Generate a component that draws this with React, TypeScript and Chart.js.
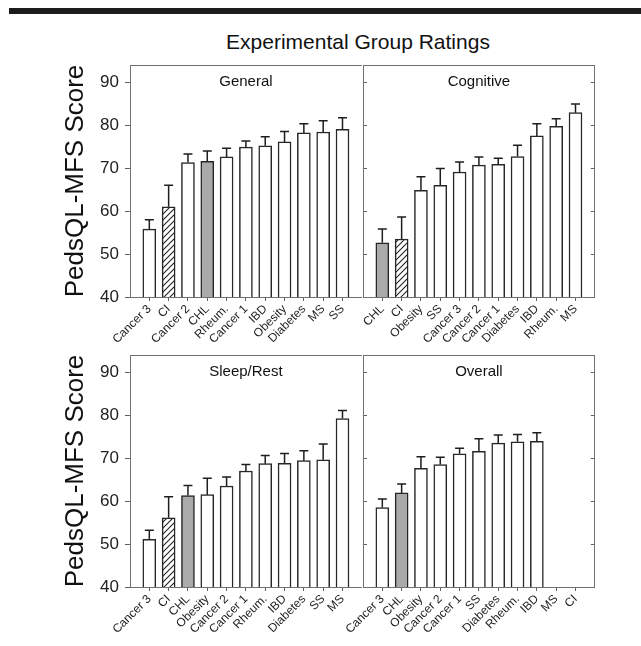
import React, { useEffect, useRef } from 'react';
import { Chart, registerables } from 'chart.js';

Chart.register(...registerables);

// ---------------- data ----------------
const generalCats = ['Cancer 3', 'CI', 'Cancer 2', 'CHL', 'Rheum.', 'Cancer 1', 'IBD', 'Obesity', 'Diabetes', 'MS', 'SS'];
const generalMeans = [55.8, 61.0, 71.3, 71.6, 72.6, 74.9, 75.2, 76.1, 78.2, 78.4, 79.0];
const generalErr = [2.2, 5.0, 2.0, 2.4, 2.0, 1.4, 2.1, 2.4, 2.1, 2.6, 2.7];

const cognitiveCats = ['CHL', 'CI', 'Obesity', 'SS', 'Cancer 3', 'Cancer 2', 'Cancer 1', 'Diabetes', 'IBD', 'Rheum.', 'MS'];
const cognitiveMeans = [52.6, 53.5, 64.8, 66.0, 69.1, 70.7, 70.9, 72.7, 77.5, 79.7, 82.9];
const cognitiveErr = [3.2, 5.1, 3.2, 3.9, 2.3, 1.9, 1.4, 2.6, 2.8, 1.8, 2.0];

const sleepCats = ['Cancer 3', 'CI', 'CHL', 'Obesity', 'Cancer 2', 'Cancer 1', 'Rheum.', 'IBD', 'Diabetes', 'SS', 'MS'];
const sleepMeans = [51.1, 56.1, 61.3, 61.5, 63.5, 67.0, 68.7, 68.8, 69.4, 69.6, 79.2];
const sleepErr = [2.1, 4.9, 2.3, 3.8, 2.1, 1.5, 1.9, 2.3, 2.3, 3.7, 1.9];

const overallCats = ['Cancer 3', 'CHL', 'Obesity', 'Cancer 2', 'Cancer 1', 'SS', 'Diabetes', 'Rheum.', 'IBD', 'MS', 'CI'];
const overallMeans = [58.5, 61.9, 67.6, 68.5, 71.0, 71.6, 73.5, 73.8, 73.9, null, null];
const overallErr = [2.0, 2.1, 2.7, 1.7, 1.3, 2.9, 1.9, 1.7, 2.0, null, null];

const Y_MIN = 40;
const Y_MAX = 94;
const Y_STEP = 10;

const FIG_TITLE = 'Experimental Group Ratings';
const Y_TITLE = 'PedsQL-MFS Score';

// ---------------- layout / style ----------------
const FONT = '"Liberation Sans", Arial, Helvetica, sans-serif';
const FRAME = '#707070';
const TICK = '#606060';
const BAR_EDGE = '#262626';
const GRAY_FILL = '#aaaaaa';

type Panel = {
  name: string;
  cats: string[];
  means: (number | null)[];
  errs: (number | null)[];
  left: number;
  top: number;
  width: number;
  height: number;
  side: 'left' | 'right';
};

// chart areas: left panels x 130-363, right panels x 363-596; top y 65-297, bottom y 355-587
const PANELS: Panel[] = [
  { name: 'General', cats: generalCats, means: generalMeans, errs: generalErr, left: 50, top: 45, width: 323, height: 307, side: 'left' },
  { name: 'Cognitive', cats: cognitiveCats, means: cognitiveMeans, errs: cognitiveErr, left: 323, top: 45, width: 283, height: 307, side: 'right' },
  { name: 'Sleep/Rest', cats: sleepCats, means: sleepMeans, errs: sleepErr, left: 50, top: 335, width: 323, height: 307, side: 'left' },
  { name: 'Overall', cats: overallCats, means: overallMeans, errs: overallErr, left: 323, top: 335, width: 283, height: 307, side: 'right' },
];

function makeHatch(): CanvasPattern | string {
  const c = document.createElement('canvas');
  c.width = 6;
  c.height = 6;
  const g = c.getContext('2d');
  if (!g) return '#fff';
  g.fillStyle = '#ffffff';
  g.fillRect(0, 0, 6, 6);
  g.strokeStyle = '#222222';
  g.lineWidth = 1.1;
  g.beginPath();
  g.moveTo(0, 6);
  g.lineTo(6, 0);
  g.moveTo(-1, 1);
  g.lineTo(1, -1);
  g.moveTo(5, 7);
  g.lineTo(7, 5);
  g.stroke();
  return g.createPattern(c, 'repeat') || '#fff';
}

function buildChart(canvas: HTMLCanvasElement, p: Panel, hatch: CanvasPattern | string) {
  const labels = ['', ...p.cats, ''];
  const values = [null, ...p.means, null];
  const errs = [null, ...p.errs, null];
  const bg = labels.map((l) => (l === 'CHL' ? GRAY_FILL : l === 'CI' ? hatch : '#ffffff'));
  const lastIdx = labels.length - 1;

  const panelPlugin = {
    id: 'panelDecor' + p.name.replace(/\W/g, ''),
    beforeDatasetsDraw(chart: any) {
      const { ctx, chartArea } = chart;
      ctx.save();
      ctx.strokeStyle = FRAME;
      ctx.lineWidth = 1;
      const y = Math.round(chartArea.top) + 0.5;
      ctx.beginPath();
      ctx.moveTo(chartArea.left, y);
      ctx.lineTo(chartArea.right, y);
      ctx.stroke();
      ctx.fillStyle = '#111111';
      ctx.font = `15px ${FONT}`;
      ctx.textAlign = 'center';
      ctx.textBaseline = 'middle';
      ctx.fillText(p.name, (chartArea.left + chartArea.right) / 2, chartArea.top + 17);
      ctx.restore();
    },
    afterDatasetsDraw(chart: any) {
      const meta = chart.getDatasetMeta(0);
      const ys = chart.scales.y;
      const ctx = chart.ctx;
      ctx.save();
      ctx.strokeStyle = '#1e1e1e';
      ctx.lineWidth = 1.5;
      meta.data.forEach((bar: any, i: number) => {
        const v = values[i];
        const e = errs[i];
        if (v == null || e == null) return;
        const x = bar.x;
        const y0 = ys.getPixelForValue(v);
        const y1 = ys.getPixelForValue(v + e);
        ctx.beginPath();
        ctx.moveTo(x, y0);
        ctx.lineTo(x, y1);
        ctx.moveTo(x - 4.5, y1);
        ctx.lineTo(x + 4.5, y1);
        ctx.stroke();
      });
      ctx.restore();
    },
  };

  const isLeft = p.side === 'left';

  const yScale: any = {
    type: 'linear',
    position: 'left',
    min: Y_MIN,
    max: Y_MAX,
    ticks: {
      stepSize: Y_STEP,
      includeBounds: false,
      display: isLeft,
      font: { family: FONT, size: 17 },
      color: '#222222',
      padding: 6,
    },
    grid: { drawOnChartArea: false, drawTicks: true, tickLength: isLeft ? 5 : -4, tickColor: TICK },
    border: { display: true, color: FRAME, width: 1 },
    title: {
      display: isLeft,
      text: Y_TITLE,
      font: { family: FONT, size: 26 },
      color: '#111111',
      padding: { top: 10, bottom: 0 },
    },
    afterFit: (s: any) => {
      s.width = isLeft ? 80 : 0;
    },
  };

  const scales: any = {
    x: {
      type: 'category',
      offset: false,
      grid: {
        offset: false,
        drawOnChartArea: false,
        drawTicks: true,
        tickLength: 4,
        tickColor: (c: any) => (c.index === 0 || c.index === lastIdx ? 'rgba(0,0,0,0)' : TICK),
      },
      border: { display: true, color: FRAME, width: 1 },
      ticks: {
        autoSkip: false,
        maxRotation: 45,
        minRotation: 45,
        font: { family: FONT, size: 12 },
        color: '#1e1e1e',
        padding: 1,
      },
      afterFit: (s: any) => {
        s.height = 55;
      },
    },
    y: yScale,
  };

  if (!isLeft) {
    scales.y2 = {
      type: 'linear',
      position: 'right',
      min: Y_MIN,
      max: Y_MAX,
      ticks: { stepSize: Y_STEP, includeBounds: false, display: false },
      grid: { drawOnChartArea: false, drawTicks: true, tickLength: -4, tickColor: TICK },
      border: { display: true, color: FRAME, width: 1 },
      afterFit: (s: any) => {
        s.width = 0;
      },
    };
  }

  return new Chart(canvas, {
    type: 'bar',
    data: {
      labels,
      datasets: [
        {
          data: values as any,
          backgroundColor: bg as any,
          borderColor: BAR_EDGE,
          borderWidth: 1.5,
          barThickness: 13,
          yAxisID: 'y',
        },
      ],
    },
    options: {
      animation: false,
      responsive: false,
      maintainAspectRatio: false,
      devicePixelRatio: 1,
      layout: { padding: { top: 20, right: 10, left: isLeft ? 0 : 40, bottom: 0 } },
      plugins: {
        legend: { display: false },
        tooltip: { enabled: false },
        title: { display: false },
      },
      scales,
    } as any,
    plugins: [panelPlugin as any],
  });
}

export default function App() {
  const refs = useRef<(HTMLCanvasElement | null)[]>([]);

  useEffect(() => {
    const hatch = makeHatch();
    const charts: Chart[] = [];
    PANELS.forEach((p, i) => {
      const c = refs.current[i];
      if (c) charts.push(buildChart(c, p, hatch));
    });
    return () => charts.forEach((c) => c.destroy());
  }, []);

  return (
    <div
      style={{
        position: 'absolute',
        left: 0,
        top: 0,
        width: 641,
        height: 646,
        background: '#ffffff',
        overflow: 'hidden',
      }}
    >
      <div style={{ position: 'absolute', left: 9, top: 8, width: 632, height: 6, background: '#1c1c1c' }} />
      <div
        style={{
          position: 'absolute',
          left: 158,
          top: 31,
          width: 400,
          textAlign: 'center',
          fontFamily: FONT,
          fontSize: 21,
          lineHeight: '21px',
          color: '#111111',
          whiteSpace: 'nowrap',
        }}
      >
        {FIG_TITLE}
      </div>
      {PANELS.map((p, i) => (
        <canvas
          key={p.name}
          ref={(el) => {
            refs.current[i] = el;
          }}
          width={p.width}
          height={p.height}
          style={{ position: 'absolute', left: p.left, top: p.top, width: p.width, height: p.height }}
        />
      ))}
    </div>
  );
}
